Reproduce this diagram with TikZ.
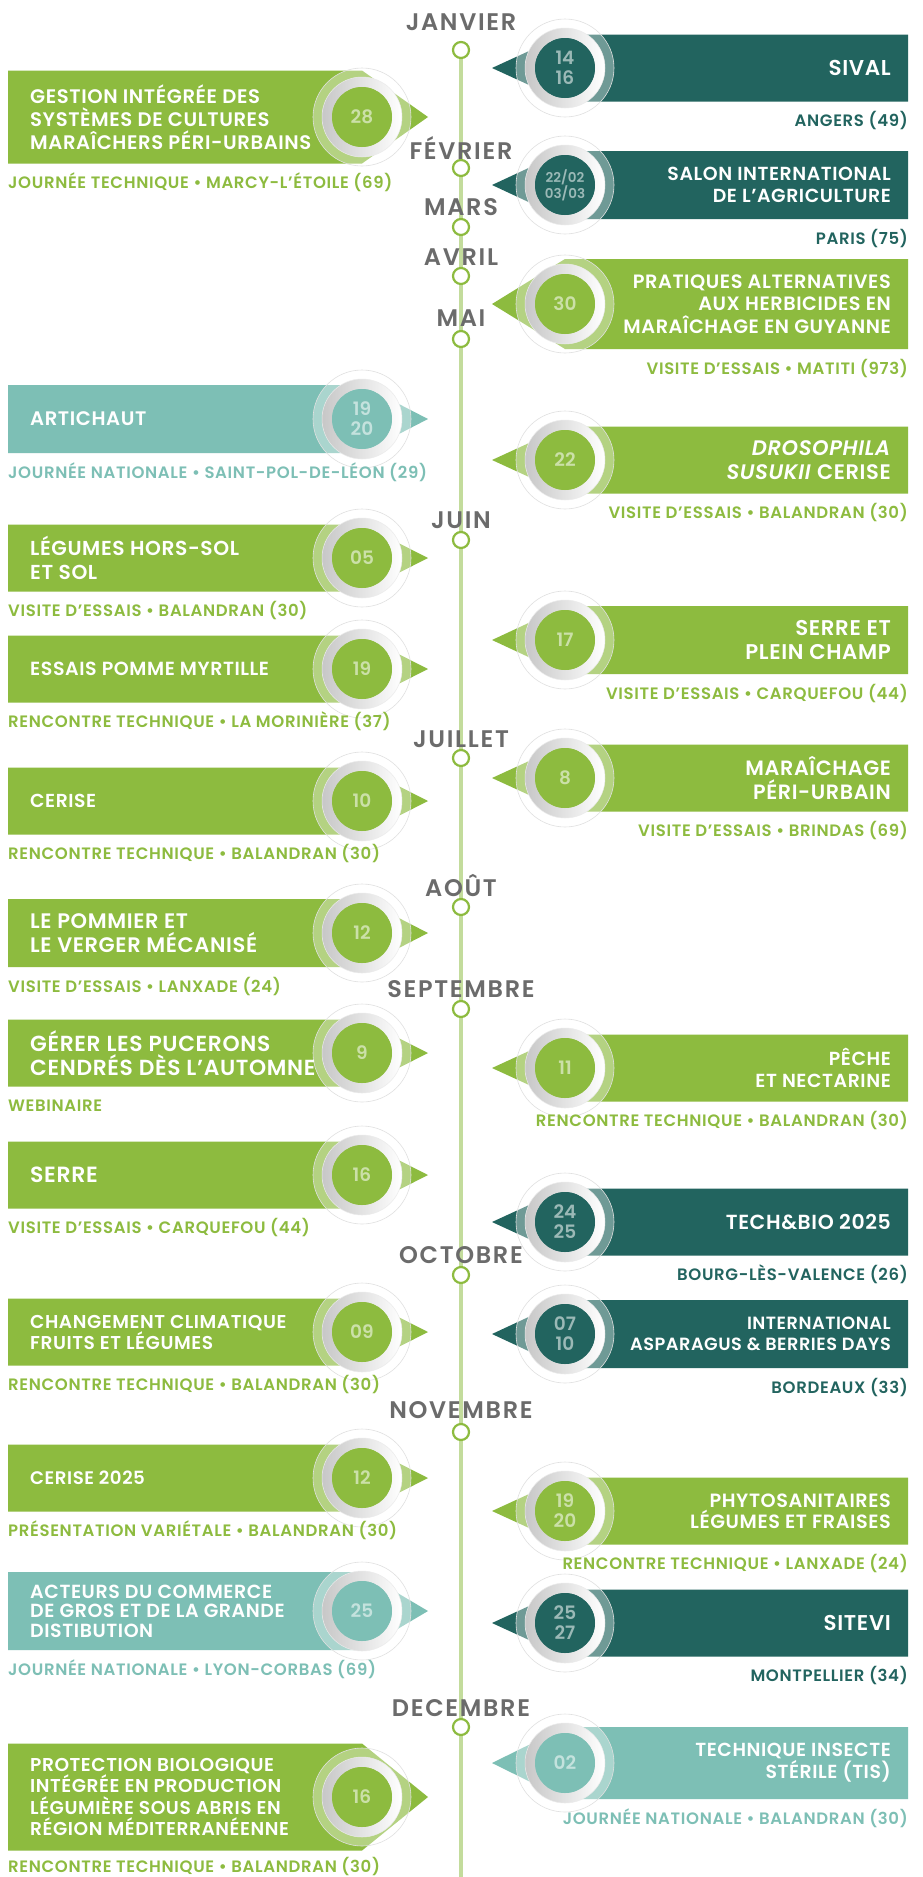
\documentclass[tikz,border=0pt]{standalone}
\usepackage{fontspec}
\setmainfont{Poppins}[BoldFont={Poppins SemiBold},BoldItalicFont={Poppins SemiBold Italic}]
\usetikzlibrary{backgrounds}
\definecolor{vert}{HTML}{8DBB3F}
\definecolor{sombre}{HTML}{22645F}
\definecolor{clair}{HTML}{7DBFB5}
\definecolor{gris}{HTML}{6B6B6B}
\definecolor{ligne}{HTML}{C3DC9C}
\tikzset{
  tt/.style n args={2}{font=\bfseries\fontsize{#1}{#2}\selectfont\addfontfeatures{LetterSpace=3}},
  nA/.style={font=\bfseries\fontsize{18.5}{20}\selectfont},
  nB/.style={font=\bfseries\fontsize{13.5}{14}\selectfont},
  titleL/.style={anchor=west,align=left,text=white,inner sep=0pt},
  titleR/.style={anchor=east,align=right,text=white,inner sep=0pt},
  subL/.style={anchor=west,inner sep=0pt,font=\bfseries\fontsize{16.5}{18}\selectfont\addfontfeatures{LetterSpace=4}},
  subR/.style={anchor=east,inner sep=0pt,font=\bfseries\fontsize{16.5}{18}\selectfont\addfontfeatures{LetterSpace=4}},
  numtext/.style={text=white,text opacity=0.55,align=center,inner sep=0pt},
  disc/.style={circle,inner sep=0pt,minimum size=60pt},
  mois/.style={text=gris,font=\bfseries\fontsize{24}{24}\selectfont\addfontfeatures{LetterSpace=7},inner sep=0pt},
  repere/.style={circle,draw=vert,fill=white,line width=2.2pt,minimum size=16pt,inner sep=0pt},
}
\def\suboff{19}
\newcommand\medalle[5]{%
  \fill[white,opacity=0.35] (#2,#3) circle (49pt);
  \draw[black!12,line width=0.6pt] (#2,#3) circle (49pt);
  \shade[even odd rule,left color=black!22,right color=white] (#2,#3) circle (40pt) (#2,#3) circle (30pt);
  \node[disc,fill=#4] (#1) at (#2,#3) {};
  \draw[black!8,line width=0.5pt] (#2,#3) circle (40pt);
  \node[numtext,#5] (#1n) at (#1) {\numbertext};
}
% #1 name #2 ycentre #3 height #4 colour #5 title #6 number #7 subtitle #8 title style #9 number style
\newcommand\Lev[9]{%
  \fill[#4] (8,#2-#3/2) -- (362,#2-#3/2) -- (428,#2) -- (362,#2+#3/2) -- (8,#2+#3/2) -- cycle;
  \def\numbertext{#6}%
  \medalle{#1c}{362}{#2}{#4}{#9}
  \node[titleL,#8] (#1t) at (30,#2) {#5};
  \node[subL,text=#4] (#1s) at (8,#2+#3/2+\suboff) {#7};
}
\newcommand\Rev[9]{%
  \fill[#4] (908,#2-#3/2) -- (565,#2-#3/2) -- (492,#2) -- (565,#2+#3/2) -- (908,#2+#3/2) -- cycle;
  \def\numbertext{#6}%
  \medalle{#1c}{565}{#2}{#4}{#9}
  \node[titleR,#8] (#1t) at (891,#2) {#5};
  \node[subR,text=#4] (#1s) at (908,#2+#3/2+\suboff) {#7};
}
\begin{document}
\begin{tikzpicture}[x=1pt,y=-1pt]
\useasboundingbox (0,0) rectangle (923,1877);
% months
\node[mois] (mJan) at (461,22) {JANVIER};
\node[repere] (cJan) at (461,50) {};
\node[mois] (mFev) at (461,148) {FÉVRIER};
\node[repere] (cFev) at (461,168) {};
\node[mois] (mMar) at (461,207) {MARS};
\node[repere] (cMar) at (461,227) {};
\node[mois] (mAvr) at (461,257) {AVRIL};
\node[repere] (cAvr) at (461,276) {};
\node[mois] (mMai) at (461,318) {MAI};
\node[repere] (cMai) at (461,339) {};
\node[mois] (mJun) at (461,520) {JUIN};
\node[repere] (cJun) at (461,540) {};
\node[mois] (mJul) at (461,739) {JUILLET};
\node[repere] (cJul) at (461,758) {};
\node[mois] (mAou) at (461,886) {AOÛT};
\node[repere] (cAou) at (461,907) {};
\node[mois] (mSep) at (461,989) {SEPTEMBRE};
\node[repere] (cSep) at (461,1009) {};
\node[mois] (mOct) at (461,1255) {OCTOBRE};
\node[repere] (cOct) at (461,1275) {};
\node[mois] (mNov) at (461,1410) {NOVEMBRE};
\node[repere] (cNov) at (461,1432) {};
\node[mois] (mDec) at (461,1708) {DECEMBRE};
\node[repere] (cDec) at (461,1727) {};
\coordinate (bas) at (461,1877);
\begin{scope}[on background layer]
  \fill[white] (0,0) rectangle (923,1877);
  \draw[ligne,line width=4.5pt] (cJan.center) -- (bas);
\end{scope}
% left events
\Lev{L1}{117}{93}{vert}{GESTION INTÉGRÉE DES\\SYSTÈMES DE CULTURES\\MARAÎCHERS PÉRI-URBAINS}{28}{JOURNÉE TECHNIQUE • MARCY-L’ÉTOILE (69)}{tt={19.6}{23}}{nA}
\Lev{L2}{419}{68}{clair}{ARTICHAUT}{19\\20}{JOURNÉE NATIONALE • SAINT-POL-DE-LÉON (29)}{tt={19.6}{23}}{nA}
\Lev{L3}{558}{67}{vert}{LÉGUMES HORS-SOL\\ET SOL}{05}{VISITE D’ESSAIS • BALANDRAN (30)}{tt={20.2}{23.5}}{nA}
\Lev{L4}{669}{67}{vert}{ESSAIS POMME MYRTILLE}{19}{RENCONTRE TECHNIQUE • LA MORINIÈRE (37)}{tt={19}{23}}{nA}
\Lev{L5}{801}{67}{vert}{CERISE}{10}{RENCONTRE TECHNIQUE • BALANDRAN (30)}{tt={18.8}{23}}{nA}
\Lev{L6}{933}{68}{vert}{LE POMMIER ET\\LE VERGER MÉCANISÉ}{12}{VISITE D’ESSAIS • LANXADE (24)}{tt={21}{24}}{nA}
\Lev{L7}{1053}{67}{vert}{GÉRER LES PUCERONS\\CENDRÉS DÈS L’AUTOMNE}{9}{WEBINAIRE}{tt={21.8}{24}}{nA}
\Lev{L8}{1175}{67}{vert}{SERRE}{16}{VISITE D’ESSAIS • CARQUEFOU (44)}{tt={22}{24}}{nA}
\Lev{L9}{1332}{67}{vert}{CHANGEMENT CLIMATIQUE\\FRUITS ET LÉGUMES}{09}{RENCONTRE TECHNIQUE • BALANDRAN (30)}{tt={18.6}{21}}{nA}
\Lev{L10}{1478}{67}{vert}{CERISE 2025}{12}{PRÉSENTATION VARIÉTALE • BALANDRAN (30)}{tt={18.2}{22}}{nA}
\Lev{L11}{1611}{78}{clair}{ACTEURS DU COMMERCE\\DE GROS ET DE LA GRANDE\\DISTIBUTION}{25}{JOURNÉE NATIONALE • LYON-CORBAS (69)}{tt={19}{19.5}}{nA}
\def\suboff{15.5}
\Lev{L12}{1797}{107}{vert}{PROTECTION BIOLOGIQUE\\INTÉGRÉE EN PRODUCTION\\LÉGUMIÈRE SOUS ABRIS EN\\RÉGION MÉDITERRANÉENNE}{16}{RENCONTRE TECHNIQUE • BALANDRAN (30)}{tt={18.6}{21.5}}{nA}
\def\suboff{19}
% right events
\Rev{R1}{68}{67}{sombre}{SIVAL}{14\\16}{ANGERS (49)}{tt={21.5}{24}}{nA}
\Rev{R2}{185}{68}{sombre}{SALON INTERNATIONAL\\DE L’AGRICULTURE}{22/02\\03/03}{PARIS (75)}{tt={18.9}{22}}{nB}
\Rev{R3}{304}{90}{vert}{PRATIQUES ALTERNATIVES\\AUX HERBICIDES EN\\MARAÎCHAGE EN GUYANNE}{30}{VISITE D’ESSAIS • MATITI (973)}{tt={19.3}{22.5}}{nA}
\Rev{R4}{460}{67}{vert}{\textit{DROSOPHILA}\\\textit{SUSUKII} CERISE}{22}{VISITE D’ESSAIS • BALANDRAN (30)}{tt={21}{24}}{nA}
\Rev{R5}{640}{68}{vert}{SERRE ET\\PLEIN CHAMP}{17}{VISITE D’ESSAIS • CARQUEFOU (44)}{tt={21.3}{24}}{nA}
\Rev{R6}{778}{67}{vert}{MARAÎCHAGE\\PÉRI-URBAIN}{8}{VISITE D’ESSAIS • BRINDAS (69)}{tt={20.7}{24}}{nA}
\Rev{R7}{1068}{67}{vert}{PÊCHE\\ET NECTARINE}{11}{RENCONTRE TECHNIQUE • BALANDRAN (30)}{tt={18.9}{22.5}}{nA}
\Rev{R8}{1222}{67}{sombre}{TECH\&BIO 2025}{24\\25}{BOURG-LÈS-VALENCE (26)}{tt={20.4}{24}}{nA}
\Rev{R9}{1334}{68}{sombre}{INTERNATIONAL\\ASPARAGUS \& BERRIES DAYS}{07\\10}{BORDEAUX (33)}{tt={17.7}{21}}{nA}
\Rev{R10}{1511}{67}{vert}{PHYTOSANITAIRES\\LÉGUMES ET FRAISES}{19\\20}{RENCONTRE TECHNIQUE • LANXADE (24)}{tt={19.2}{21}}{nA}
\Rev{R11}{1623}{67}{sombre}{SITEVI}{25\\27}{MONTPELLIER (34)}{tt={21.4}{24}}{nA}
\Rev{R12}{1763}{72}{clair}{TECHNIQUE INSECTE\\STÉRILE (TIS)}{02}{JOURNÉE NATIONALE • BALANDRAN (30)}{tt={18.9}{22}}{nA}
\end{tikzpicture}
\end{document}
